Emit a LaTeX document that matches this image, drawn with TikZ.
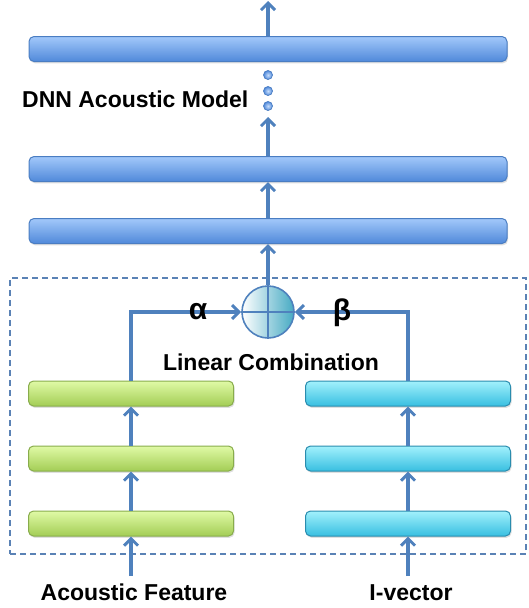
\documentclass[tikz,border=0pt]{standalone}
\usepackage{fontspec}
\setmainfont{Liberation Sans}
\usetikzlibrary{arrows.meta,shadows}

\definecolor{linkblue}{HTML}{4F81BD}
\definecolor{dashblue}{HTML}{5A82B5}
\definecolor{barTopB}{HTML}{A2C8FA}
\definecolor{barBotB}{HTML}{5089DA}
\definecolor{barEdgeB}{HTML}{4A7DC2}
\definecolor{barTopG}{HTML}{E0FAA6}
\definecolor{barBotG}{HTML}{A3CD55}
\definecolor{barEdgeG}{HTML}{88AC4C}
\definecolor{barTopC}{HTML}{A2F1FC}
\definecolor{barBotC}{HTML}{38BFE1}
\definecolor{barEdgeC}{HTML}{2A8CAE}
\definecolor{mixTeal}{HTML}{46AAC3}

\tikzset{
  bar/.style={rectangle, rounded corners=5pt, line width=1pt,
    drop shadow={opacity=0.25, shadow xshift=1pt, shadow yshift=-1.8pt},
    minimum height=25pt, inner sep=0pt},
  bluebar/.style={bar, draw=barEdgeB, top color=barTopB, bottom color=barBotB,
    minimum width=478pt},
  greenbar/.style={bar, draw=barEdgeG, top color=barTopG, bottom color=barBotG,
    minimum width=205pt},
  cyanbar/.style={bar, draw=barEdgeC, top color=barTopC, bottom color=barBotC,
    minimum width=205pt},
  link/.style={draw=linkblue, line width=3.2pt,
    -{Straight Barb[length=7pt,width=14pt,line width=3pt]}},
  dotnode/.style={circle, inner sep=0pt, minimum size=9pt, draw=barEdgeB,
    line width=0.7pt, inner color=barTopB!60!white, outer color=barBotB},
  label/.style={font=\bfseries\fontsize{23}{27}\selectfont, inner sep=0pt},
  greek/.style={font=\bfseries\fontsize{30}{33}\selectfont, inner sep=0pt}
}

\begin{document}
\begin{tikzpicture}[x=1pt,y=-1pt]
  \useasboundingbox (0,0) rectangle (528,608);

  % combination region
  \node[draw=dashblue, line width=1.8pt, dash pattern=on 6pt off 4pt,
        rectangle, minimum width=516pt, minimum height=276pt, inner sep=0pt]
        (region) at (268,416) {};

  % DNN layers
  \node[bluebar] (b1) at (268,49) {};
  \node[bluebar] (b2) at (268,169) {};
  \node[bluebar] (b3) at (268,231) {};

  % acoustic feature branch
  \node[greenbar] (g1) at (131,393.5) {};
  \node[greenbar] (g2) at (131,458.5) {};
  \node[greenbar] (g3) at (131,523.5) {};

  % i-vector branch
  \node[cyanbar] (c1) at (408,393.5) {};
  \node[cyanbar] (c2) at (408,458.5) {};
  \node[cyanbar] (c3) at (408,523.5) {};

  % linear combination node
  \node[circle, minimum size=52pt, inner sep=0pt, draw=linkblue, line width=1.6pt,
        left color=white, right color=mixTeal] (comb) at (268,312) {};
  \draw[linkblue, line width=1.4pt] (comb.north) -- (comb.south)
                                     (comb.west) -- (comb.east);

  % dots between layers
  \node[dotnode] (d1) at (268,75) {};
  \node[dotnode] (d2) at (268,91) {};
  \node[dotnode] (d3) at (268,106) {};

  % free ends of connectors
  \coordinate (out) at (268,1);
  \coordinate (gap) at (268,117);
  \coordinate (inA) at (131,576);
  \coordinate (inI) at (408,576);

  % connectors
  \draw[link] (b1.north) -- (out);
  \draw[link] (b2.north) -- (gap);
  \draw[link] (b3.north) -- (b2.south);
  \draw[link] (comb.north) -- (b3.south);

  \draw[link] (g1.north) |- (comb.west);
  \draw[link] (c1.north) |- (comb.east);

  \draw[link] (g2.north) -- (g1.south);
  \draw[link] (g3.north) -- (g2.south);
  \draw[link] (inA) -- (g3.south);

  \draw[link] (c2.north) -- (c1.south);
  \draw[link] (c3.north) -- (c2.south);
  \draw[link] (inI) -- (c3.south);

  % labels
  \node[label, anchor=base west] (dnn) at (22,107) {DNN Acoustic Model};
  \node[greek, anchor=base] (alpha) at (198,319) {α};
  \node[greek, anchor=base] (beta) at (342,320) {β};
  \node[label, anchor=base] (lin) at (271,370) {Linear Combination};
  \node[label, anchor=base] (feat) at (134,600) {Acoustic Feature};
  \node[label, anchor=base] (ivec) at (411,600) {I-vector};
\end{tikzpicture}
\end{document}
